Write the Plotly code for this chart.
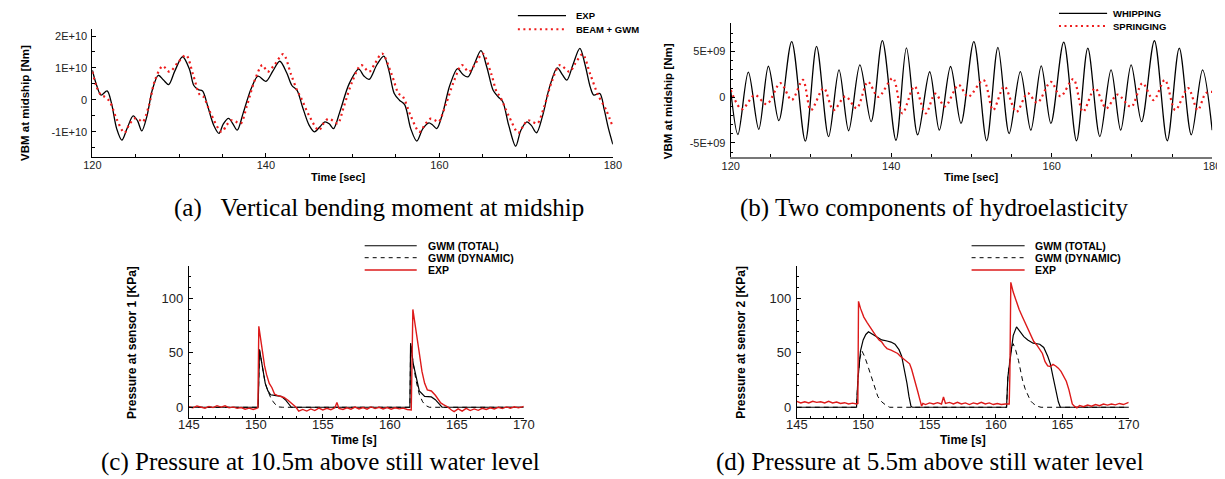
import plotly.graph_objects as go

W, H = 1225, 479
OFF = 8  # page body margin of the browser

# ---------------- data: panel (a) VBM at midship [Nm] ----------------
a_exp_t = [120.0, 120.5, 121.0, 121.7, 122.2, 122.8, 123.4, 124.0, 124.7, 125.2, 125.7, 126.3, 126.9, 127.6,
           128.2, 128.8, 129.5, 130.4, 131.2, 131.7, 132.2, 132.7, 133.3, 134.0, 134.6, 135.1, 135.7, 136.2,
           136.7, 137.4, 138.3, 139.1, 140.0, 140.8, 141.6, 142.4, 143.0, 143.6, 144.2, 145.0, 145.6, 146.2,
           146.8, 147.3, 147.8, 148.5, 149.6, 150.7, 151.3, 151.9, 152.8, 153.6, 154.2, 154.8, 155.4, 156.0,
           156.7, 157.4, 158.1, 158.8, 159.2, 159.7, 160.4, 161.2, 162.1, 162.7, 163.3, 164.0, 164.8, 165.5,
           166.2, 166.8, 167.3, 168.0, 168.8, 169.4, 170.1, 170.6, 171.2, 171.9, 172.7, 173.6, 174.2, 174.7,
           175.4, 176.2, 176.8, 177.4, 177.8, 178.5, 179.0, 179.5, 180.0]
a_exp_v = [0.93, 0.45, 0.15, 0.28, -0.1, -0.9, -1.26, -0.9, -0.5, -0.65, -0.97, -0.5, 0.3, 0.77,
           0.62, 0.48, 0.9, 1.35, 0.95, 0.45, 0.32, 0.28, -0.2, -0.8, -1.05, -0.75, -0.58, -0.75,
           -0.95, -0.4, 0.35, 0.74, 0.58, 0.9, 1.21, 0.85, 0.45, 0.3, -0.2, -0.8, -1.0, -0.85,
           -0.69, -0.75, -0.9, -0.4, 0.5, 0.96, 0.75, 0.64, 1.1, 1.37, 0.9, 0.2, -0.01, -0.15,
           -0.9, -1.29, -0.9, -0.72, -0.78, -0.9, -0.4, 0.45, 0.98, 0.8, 0.72, 1.1, 1.54, 1.0,
           0.3, 0.09, -0.05, -0.8, -1.45, -0.95, -0.69, -0.8, -1.03, -0.5, 0.4, 1.0, 0.78, 0.62,
           1.1, 1.61, 1.1, 0.4, 0.15, 0.2, -0.3, -0.9, -1.39]
a_gwm_t = [120.0, 120.5, 121.0, 121.4, 122.0, 122.8, 123.7, 124.3, 124.9, 125.4, 125.8, 126.5, 127.2, 128.1,
           128.9, 129.8, 130.8, 131.6, 132.4, 132.8, 133.6, 134.9, 135.5, 136.0, 136.5, 137.1, 137.8, 138.7,
           139.6, 140.2, 141.0, 142.0, 142.9, 143.6, 144.0, 145.0, 146.1, 146.7, 147.2, 147.8, 148.3, 149.0,
           150.0, 151.0, 151.9, 152.6, 153.4, 154.5, 155.3, 155.8, 156.7, 157.7, 158.4, 159.0, 159.5, 159.9,
           160.8, 161.7, 162.6, 163.4, 164.2, 165.0, 166.0, 166.6, 167.0, 168.0, 169.1, 169.7, 170.2, 170.8,
           171.3, 172.1, 173.0, 173.9, 175.0, 175.7, 176.5, 177.4, 178.3, 179.2, 180.0]
a_gwm_v = [0.88, 0.4, 0.15, 0.1, -0.05, -0.6, -1.03, -0.75, -0.58, -0.62, -0.69, -0.2, 0.6, 1.06,
           0.88, 1.15, 1.4, 0.8, 0.15, 0.1, -0.4, -1.0, -0.78, -0.64, -0.68, -0.74, -0.2, 0.6,
           1.09, 0.88, 1.1, 1.43, 0.8, 0.3, 0.1, -0.5, -0.95, -0.72, -0.59, -0.66, -0.74, -0.2,
           0.6, 1.09, 0.88, 1.15, 1.45, 0.8, 0.2, 0.1, -0.5, -1.0, -0.75, -0.59, -0.64, -0.69,
           -0.1, 0.6, 1.09, 0.88, 1.15, 1.45, 0.8, 0.25, 0.1, -0.5, -1.03, -0.8, -0.64, -0.7,
           -0.74, -0.2, 0.6, 1.09, 0.88, 1.15, 1.43, 0.8, 0.15, -0.3, -0.85]
a_ticks = [-1e10, 0, 1e10, 2e10]
a_ticktext = ["-1E+10", "0", "1E+10", "2E+10"]

# ---------------- data: panel (b) whipping / springing ----------------
b_whip_t = [120.0, 120.9, 122.2, 123.5, 124.7, 126.0, 127.6, 129.3, 130.7, 132.2, 133.5, 134.7, 136.1, 137.5,
            138.9, 140.6, 141.9, 143.3, 144.8, 146.0, 147.4, 148.7, 150.3, 151.9, 153.3, 154.7, 156.1, 157.4,
            158.7, 159.9, 161.5, 163.1, 164.5, 166.0, 167.4, 168.6, 169.9, 171.2, 172.8, 174.4, 175.9, 177.4,
            178.8, 180.0]
b_whip_v = [0.8, -4.07, 2.75, -3.5, 3.4, -2.56, 6.1, -4.8, 5.57, -4.3, 3.0, -3.66, 3.55, -2.67,
            6.2, -4.7, 5.4, -4.1, 2.8, -3.6, 3.37, -2.86, 6.1, -4.76, 5.46, -3.96, 2.82, -3.6,
            3.44, -2.86, 6.04, -4.76, 5.38, -4.3, 3.0, -3.6, 3.55, -2.67, 6.19, -4.76, 5.38, -4.1,
            3.0, -3.6]
b_spring_t = [120.0, 121.4, 123.0, 124.5, 126.2, 127.6, 129.0, 130.0, 131.6, 132.8, 134.3, 135.7, 137.1, 138.4,
              140.2, 141.4, 142.9, 144.3, 145.5, 146.7, 148.4, 149.6, 151.5, 152.7, 154.1, 155.6, 157.0, 158.2,
              159.9, 161.1, 162.7, 163.9, 165.4, 166.8, 168.2, 169.9, 171.3, 172.7, 174.1, 175.4, 177.0, 178.2,
              179.2, 180.0]
b_spring_v = [0.8, -1.3, 0.25, -0.75, 1.55, -0.3, 1.9, -1.4, 1.0, -1.4, 0.1, -1.2, 1.7, 0.05,
              2.1, -1.75, 1.2, -1.75, 0.4, -1.0, 1.35, 0.05, 1.9, -1.4, 1.2, -1.6, 0.45, -0.6,
              1.7, 0.1, 2.0, -1.6, 1.0, -1.2, 0.3, -1.05, 1.55, -0.3, 1.9, -1.4, 1.0, -1.4,
              0.45, 0.6]
b_ticks = [-5e9, 0, 5e9]
b_ticktext = ["-5E+09", "0", "5E+09"]

# ---------------- data: panel (c) pressure sensor 1 [KPa] ----------------
c_tot_t = [145.0, 150.17, 150.27, 150.5, 150.7, 150.9, 151.1, 151.5, 151.9, 152.2, 152.45, 152.65,
           161.5, 161.55, 161.75, 161.95, 162.2, 162.6, 163.1, 163.4, 163.7, 163.9, 170.0]
c_tot_v = [0, 0, 53, 34, 22, 15, 11.5, 10.7, 10, 7, 3, 0,
           0, 59, 40, 28, 15, 10, 9.5, 7, 3, 0, 0]
c_dyn_t = [145.0, 150.17, 150.27, 150.5, 150.7, 150.9, 151.1, 151.3, 151.5, 151.7, 152.0,
           161.5, 161.55, 161.75, 161.95, 162.2, 162.45, 162.7, 162.95, 170.0]
c_dyn_v = [0, 0, 53, 34, 22, 15, 9, 5, 2, 0.3, 0,
           0, 59, 40, 25, 12, 5, 1.5, 0, 0]
c_exp_t = [145.0, 145.3, 145.6, 145.9, 146.2, 146.5, 146.8, 147.1, 147.4, 147.7, 148.0, 148.3, 148.6, 148.9,
           149.2, 149.5, 149.8, 150.05, 150.15, 150.22, 150.35, 150.5, 150.65, 150.8, 151.0, 151.2, 151.4,
           151.6, 151.9, 152.1, 152.4, 152.6, 152.8, 153.0, 153.2, 153.5, 153.8, 154.1, 154.4, 154.7, 155.0,
           155.3, 155.6, 155.9, 156.05, 156.2, 156.5, 156.8, 157.1, 157.4, 157.7, 158.0, 158.3, 158.6, 158.9,
           159.2, 159.5, 159.8, 160.1, 160.4, 160.7, 161.0, 161.3, 161.6, 161.72, 161.85, 162.0, 162.2, 162.4,
           162.6, 162.8, 163.1, 163.4, 163.6, 163.8, 164.0, 164.3, 164.6, 164.8, 165.1, 165.4, 165.7, 166.0,
           166.3, 166.6, 166.9, 167.2, 167.5, 167.8, 168.1, 168.4, 168.7, 169.0, 169.3, 169.6, 170.0]
c_exp_v = [0.5, -0.5, 1.2, 0.0, -0.8, 0.8, -0.3, 1.5, 0.2, 1.3, -0.5, 0.3, -1.0, -0.2,
           -1.8, -0.8, -2.0, -1.0, -0.5, 74.5, 62, 50, 38, 30, 22, 18, 12,
           11, 10, 9, 6.5, 4.5, 2.5, 0, -3.5, -2.0, -3.5, -1.5, -3.0, -0.8, -2.5,
           -1.0, -2.2, -0.5, 4.5, -1.0, -2.0, -0.5, -1.8, 0.2, -1.5, -0.2, -1.8, 0.3, -1.2,
           0.0, -1.5, -0.3, -1.8, -0.5, -1.5, -0.8, -2.0, -2.5, 90, 78, 65, 50, 33,
           22, 16, 15, 11, 7.5, 4, 2.5, 0.5, -2.5, -4.0, -1.5, -3.5, -1.0, -3.0,
           -1.5, -2.8, -1.0, -2.0, -0.5, -1.5, 0.0, -1.2, 0.3, -0.8, 0.5, -0.5, 0.8]

# ---------------- data: panel (d) pressure sensor 2 [KPa] ----------------
d_tot_t = [145.0, 149.5, 149.6, 149.8, 150.0, 150.2, 150.4, 150.6, 150.9, 151.4, 151.8, 152.1, 152.4, 152.7,
           152.9, 153.1, 153.3, 153.45, 153.6, 153.7, 160.8, 160.9, 161.1, 161.3, 161.55, 161.8, 162.1, 162.4,
           162.8, 163.3, 163.6, 163.9, 164.1, 164.3, 164.5, 164.7, 164.85, 170.0]
d_tot_v = [0, 0, 25, 52, 62, 67, 69.5, 68, 65, 62, 61, 60, 58, 53,
           47, 35, 22, 10, 1, 0, 0, 28, 50, 66, 74, 70, 65, 62,
           59, 58, 55, 47, 40, 28, 16, 5, 0, 0]
d_dyn_t = [145.0, 149.5, 149.6, 149.75, 149.9, 150.1, 150.3, 150.5, 150.7, 150.9, 151.1, 151.4, 151.7, 152.0,
           160.8, 160.9, 161.1, 161.3, 161.5, 161.7, 161.85, 162.0, 162.2, 162.4, 162.6, 162.8, 163.1, 163.4,
           170.0]
d_dyn_v = [0, 0, 25, 45, 52, 47, 40, 32, 25, 16, 10, 5, 2, 0,
           0, 28, 50, 58.5, 52, 43, 34, 25, 17, 11, 6, 3.5, 1, 0,
           0]
d_exp_t = [145.0, 145.3, 145.6, 145.9, 146.2, 146.5, 146.8, 147.1, 147.4, 147.7, 148.0, 148.3, 148.6, 148.9,
           149.2, 149.5, 149.6, 149.65, 149.8, 150.05, 150.3, 150.5, 150.75, 151.0, 151.2, 151.4, 151.6, 151.8,
           152.1, 152.3, 152.6, 152.8, 153.1, 153.3, 153.5, 153.65, 153.8, 153.95, 154.1, 154.25, 154.4, 154.5,
           154.7, 155.0, 155.3, 155.6, 155.9, 156.05, 156.2, 156.5, 156.8, 157.1, 157.4, 157.7, 158.0, 158.3,
           158.6, 158.9, 159.2, 159.5, 159.8, 160.1, 160.4, 160.7, 161.0, 161.05, 161.12, 161.3, 161.5, 161.75,
           162.0, 162.25, 162.5, 162.7, 162.85, 163.1, 163.3, 163.5, 163.7, 163.9, 164.1, 164.3, 164.5, 164.7,
           164.9, 165.1, 165.3, 165.5, 165.65, 165.75, 165.9, 166.1, 166.3, 166.6, 166.9, 167.2, 167.5, 167.8,
           168.1, 168.4, 168.7, 169.0, 169.3, 169.6, 170.0]
d_exp_v = [5.5, 4.0, 5.0, 4.0, 5.5, 4.5, 5.0, 4.0, 5.5, 4.0, 4.8, 3.5, 4.2, 3.0,
           3.8, 3.0, 3.5, 97.5, 91, 83, 78, 74, 69, 65, 62, 60, 56.5, 54,
           52.5, 51, 49.5, 47, 44, 42, 40, 35, 29, 22, 15, 8, 1, 3.5,
           2.5, 4.0, 3.0, 4.2, 3.0, 9.5, 3.5, 4.5, 3.0, 4.5, 3.0, 4.0, 2.5, 4.0,
           3.0, 4.5, 3.0, 4.0, 2.5, 3.5, 2.5, 3.0, 3.0, 30, 115, 106, 98.5, 90,
           83, 76, 69.5, 64, 60.5, 57, 53, 49.5, 42, 38, 37.5, 39.5, 38, 36,
           33, 29, 24, 16, 8, 3, 1, -0.5, 1.5, 0.5, 2.0, 1.0, 2.5, 1.5,
           3.0, 2.0, 3.0, 2.2, 3.5, 2.5, 4.5]
p_ticks = [0, 50, 100]
p_xticks = [145, 150, 155, 160, 165, 170]

RED_DOT = "#ee1c1c"
RED = "#dd1a1a"

fig = go.Figure()

def add(x, y, xa, ya, color, width, dash="solid", shape="linear"):
    fig.add_trace(go.Scatter(x=x, y=y, xaxis=xa, yaxis=ya, mode="lines", showlegend=False,
                             line=dict(color=color, width=width, dash=dash, shape=shape, smoothing=0.9)))

add(a_exp_t, [v * 1e10 for v in a_exp_v], "x", "y", "black", 1.3, shape="spline")
add(a_gwm_t, [v * 1e10 for v in a_gwm_v], "x", "y", RED_DOT, 2.2, dash="2px,3.5px", shape="spline")
add(b_whip_t, [v * 1e9 for v in b_whip_v], "x2", "y2", "black", 1.3, shape="spline")
add(b_spring_t, [v * 1e9 for v in b_spring_v], "x2", "y2", RED_DOT, 2.2, dash="2px,3.5px", shape="spline")
add(c_tot_t, c_tot_v, "x3", "y3", "black", 1.2)
add(c_dyn_t, c_dyn_v, "x3", "y3", "black", 1.0, dash="5px,4px")
add(c_exp_t, c_exp_v, "x3", "y3", RED, 1.4)
add(d_tot_t, d_tot_v, "x4", "y4", "black", 1.2)
add(d_dyn_t, d_dyn_v, "x4", "y4", "black", 1.0, dash="5px,4px")
add(d_exp_t, d_exp_v, "x4", "y4", RED, 1.4)

def px_x(p):
    return (p - OFF) / W

def px_y(p):
    return 1 - (p - OFF) / H

FONT = "Liberation Sans, Arial, sans-serif"
SERIF = "Liberation Serif, Times New Roman, serif"

def axis(domain, rng, size, **kw):
    d = dict(domain=domain, range=rng, showline=True, linecolor="black", linewidth=1,
             ticks="inside", ticklen=4, tickcolor="black", showgrid=False, zeroline=False,
             tickfont=dict(family=FONT, size=size, color="#222"), mirror=False)
    d.update(kw)
    return d

AB_FS = 11
CD_FS = 13
layout = dict(
    width=W, height=H, margin=dict(l=0, r=0, t=0, b=0),
    paper_bgcolor="white", plot_bgcolor="white",
    xaxis=axis([px_x(82.7), px_x(612.7)], [120, 180], AB_FS, anchor="y", tickvals=[120, 140, 160, 180],
               ticklabelstandoff=-2,
               minor=dict(dtick=5, ticks="inside", ticklen=2.5, tickcolor="black")),
    yaxis=axis([px_y(156.7), px_y(29.3)], [-1.78e10, 2.21e10], AB_FS, anchor="x",
               tickvals=a_ticks, ticktext=a_ticktext, ticklabelstandoff=2,
               minor=dict(tickvals=[-1.5e10, -0.5e10, 0.5e10, 1.5e10], ticks="inside", ticklen=2.5, tickcolor="black")),
    xaxis2=axis([px_x(732.7), px_x(1223)], [120, 180], AB_FS, anchor="y2", tickvals=[120, 140, 160, 180],
                linecolor="#777", linewidth=2, ticklabelstandoff=-2,
                minor=dict(dtick=5, ticks="inside", ticklen=2.5, tickcolor="black")),
    yaxis2=axis([px_y(156.7), px_y(23.3)], [-6.5e9, 8.1e9], AB_FS, anchor="x2",
                tickvals=b_ticks, ticktext=b_ticktext, ticklabelstandoff=2,
                minor=dict(dtick=1e9, ticks="inside", ticklen=2.5, tickcolor="black")),
    xaxis3=axis([px_x(181), px_x(522)], [145, 170], CD_FS, anchor="y3", tickvals=p_xticks,
                ticklabelstandoff=-5,
                minor=dict(dtick=1, ticks="inside", ticklen=2, tickcolor="black")),
    yaxis3=axis([px_y(417.7), px_y(266)], [-9.6, 130], CD_FS, anchor="x3", tickvals=p_ticks,
                ticklabelstandoff=2,
                minor=dict(dtick=10, ticks="inside", ticklen=2.5, tickcolor="black")),
    xaxis4=axis([px_x(800), px_x(1138)], [145, 170], CD_FS, anchor="y4", tickvals=p_xticks,
                ticklabelstandoff=-5,
                minor=dict(dtick=1, ticks="inside", ticklen=2, tickcolor="black")),
    yaxis4=axis([px_y(417.7), px_y(266)], [-9.6, 130], CD_FS, anchor="x4", tickvals=p_ticks,
                ticklabelstandoff=2,
                minor=dict(dtick=10, ticks="inside", ticklen=2.5, tickcolor="black")),
)
fig.update_layout(**layout)

anns = []
shapes = []

def text(x, y, s, size, bold=True, angle=0, xanchor="center", family=FONT):
    anns.append(dict(x=px_x(x), y=px_y(y), xref="paper", yref="paper", text=f"<b>{s}</b>" if bold else s,
                     showarrow=False, textangle=angle, xanchor=xanchor, yanchor="middle",
                     font=dict(family=family, size=size, color="black")))

# axis titles
text(14, 103, "VBM at midship [Nm]", 11.5, angle=-90)
text(333, 177, "Time [sec]", 11)
text(669, 101, "VBM at midship [Nm]", 11.5, angle=-90)
text(978, 177, "Time [sec]", 11)
text(123, 342, "Pressure at sensor 1 [KPa]", 12, angle=-90)
text(349, 440, "Time [s]", 12)
text(743, 342, "Pressure at sensor 2 [KPa]", 12, angle=-90)
text(969, 440, "Time [s]", 12)

# captions
CAP = 25
text(375, 208, "(a)&nbsp;&nbsp;&nbsp;Vertical bending moment at midship", CAP, bold=False, family=SERIF)
text(940, 208, "(b) Two components of hydroelasticity", CAP, bold=False, family=SERIF)
text(315, 462, "(c) Pressure at 10.5m above still water level", CAP, bold=False, family=SERIF)
text(936, 462, "(d) Pressure at 5.5m above still water level", CAP, bold=False, family=SERIF)

# legends
def leg(x0, x1, y, color, width, dash, label, tx, size):
    shapes.append(dict(type="line", xref="paper", yref="paper", x0=px_x(x0), x1=px_x(x1),
                       y0=px_y(y), y1=px_y(y), line=dict(color=color, width=width, dash=dash)))
    text(tx, y, label, size, xanchor="left")

leg(516, 565, 15.7, "black", 1.2, "solid", "EXP", 573, 9.5)
leg(516, 565, 29.3, RED_DOT, 2.0, "2px,3.5px", "BEAM + GWM", 573, 9.5)
leg(1067, 1116, 13.3, "black", 1.2, "solid", "WHIPPING", 1120, 9.5)
leg(1067, 1116, 26, RED_DOT, 2.0, "2px,3.5px", "SPRINGING", 1120, 9.5)
for (lx0, lx1, tx) in [(360, 413, 422), (978, 1032, 1041)]:
    leg(lx0, lx1, 245.7, "black", 1.1, "solid", "GWM (TOTAL)", tx, 10.5)
    leg(lx0, lx1, 257.7, "black", 1.0, "4px,4px", "GWM (DYNAMIC)", tx, 10.5)
    leg(lx0, lx1, 270, RED, 1.4, "solid", "EXP", tx, 10.5)

fig.update_layout(annotations=anns, shapes=shapes)
fig.write_html("out.html")
